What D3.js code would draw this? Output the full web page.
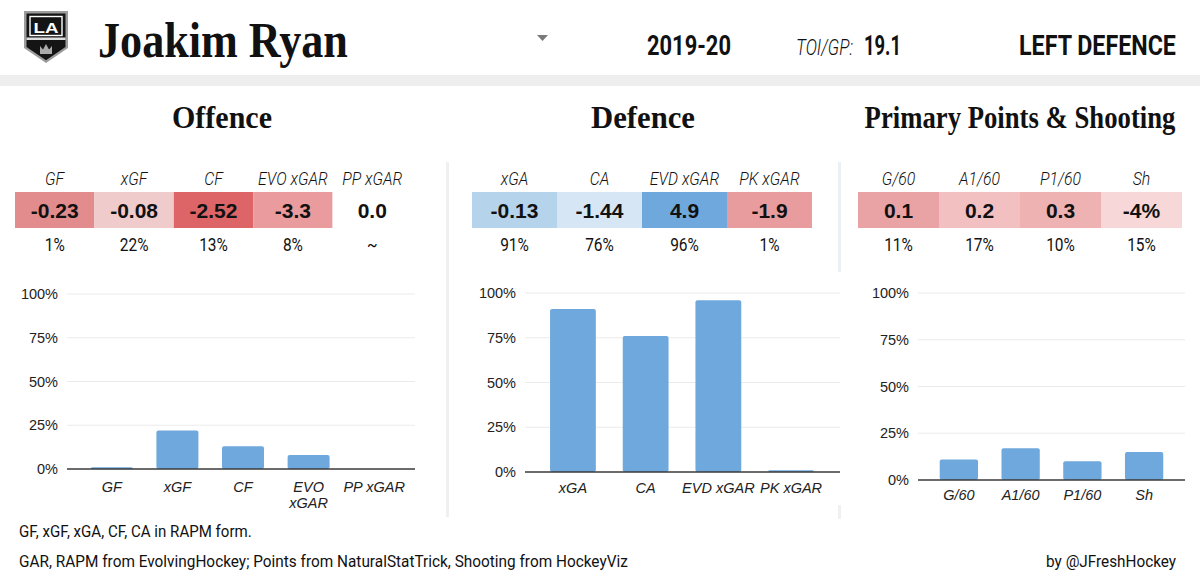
<!DOCTYPE html>
<html><head><meta charset="utf-8">
<script src="https://cdn.jsdelivr.net/npm/d3@7"></script>
<style>
html,body{margin:0;padding:0;background:#fff;}
svg{display:block;}
</style></head><body>
<svg id="c" width="1200" height="581"></svg>
<script>
// ---------- data ----------
const playerName = "Joakim Ryan";
const season = "2019-20";
const toiLabel = "TOI/GP:";
const toiPerGP = "19.1";
const position = "LEFT DEFENCE";

const sectionTitles = ["Offence", "Defence", "Primary Points & Shooting"];

const offenceCategories = ["GF", "xGF", "CF", "EVO xGAR", "PP xGAR"];
const offenceValues = ["-0.23", "-0.08", "-2.52", "-3.3", "0.0"];
const offencePercentiles = [1, 22, 13, 8, null];

const defenceCategories = ["xGA", "CA", "EVD xGAR", "PK xGAR"];
const defenceValues = ["-0.13", "-1.44", "4.9", "-1.9"];
const defencePercentiles = [91, 76, 96, 1];

const shootingCategories = ["G/60", "A1/60", "P1/60", "Sh"];
const shootingValues = ["0.1", "0.2", "0.3", "-4%"];
const shootingPercentiles = [11, 17, 10, 15];

const yTicks = [0, 25, 50, 75, 100];

const footnote1 = "GF, xGF, xGA, CF, CA in RAPM form.";
const footnote2 = "GAR, RAPM from EvolvingHockey; Points from NaturalStatTrick, Shooting from HockeyViz";
const credit = "by @JFreshHockey";

// ---------- styles ----------
const offenceCellColors = ["#e38c8e", "#f0cbcb", "#dd6568", "#e99b9d", "#ffffff"];
const defenceCellColors = ["#b6d3ec", "#d7e6f4", "#6fa8dc", "#e89c9e"];
const shootingCellColors = ["#eaa3a5", "#f2c0c1", "#eeb2b3", "#f7d7d8"];
const BAR = "#6fa8dc";
const SANS = "'Liberation Sans', Arial, sans-serif";
const COND = "Roboto, 'Noto Sans', sans-serif";
const SERIF = "'Liberation Serif', 'DejaVu Serif', serif";

const svg = d3.select("#c");
svg.append("rect").attr("width", 1200).attr("height", 581).attr("fill", "#fff");

// scale a text horizontally so that its width matches a target
function squeeze(sel, x, y, target, anchor) {
  const node = sel.node();
  const w = node.getComputedTextLength();
  const s = target / w;
  sel.attr("x", null).attr("y", null).attr("text-anchor", anchor || "start")
    .attr("transform", `translate(${x},${y}) scale(${s},1)`);
  return sel;
}

// ---------- header ----------
const logo = svg.append("g").attr("transform", "translate(24,11)");
logo.append("path").attr("d", "M0,0 H44 V37 L22,52 L0,37 Z").attr("fill", "#9c9c9c");
logo.append("path").attr("d", "M2.5,2.5 H41.5 V36 L22,49.2 L2.5,36 Z").attr("fill", "#141414");
logo.append("rect").attr("x", 6).attr("y", 5.5).attr("width", 32).attr("height", 19).attr("fill", "none").attr("stroke", "#fff").attr("stroke-width", 1.4);
logo.append("text").attr("x", 22).attr("y", 21.5).attr("text-anchor", "middle").attr("font-family", SANS)
  .attr("font-size", 15).attr("font-weight", 700).attr("fill", "#fff").attr("textLength", 25).attr("lengthAdjust", "spacingAndGlyphs").text("LA");
logo.append("rect").attr("x", 2.5).attr("y", 26.5).attr("width", 39).attr("height", 2.5).attr("fill", "#ddd");
logo.append("path").attr("d", "M16,43 L16,35 L19,38.5 L22,33 L25,38.5 L28,35 L28,43 Z").attr("fill", "#aaa");

squeeze(svg.append("text").attr("font-family", SERIF).attr("font-weight", 700)
  .attr("font-size", 50).attr("fill", "#111").text(playerName), 98, 57, 250);

svg.append("path").attr("d", "M537,35 L548,35 L542.5,41 Z").attr("fill", "#7a7a7a");

function fitText(x, y, str, size, weight, style, w, anchor) {
  const t = svg.append("text").attr("font-family", COND)
    .attr("font-size", size).attr("font-weight", weight).attr("font-style", style)
    .attr("fill", "#111").text(str);
  return squeeze(t, x, y, w, anchor);
}
fitText(647, 55, season, 27, 700, "normal", 84);
fitText(796, 55, toiLabel, 22, 300, "italic", 57);
fitText(864, 55, toiPerGP, 27, 700, "normal", 37);
fitText(1019, 55, position, 27, 700, "normal", 157);

svg.append("rect").attr("x", 0).attr("y", 75).attr("width", 1200).attr("height", 11).attr("fill", "#eeeeee");

// separators
svg.append("rect").attr("x", 446).attr("y", 162).attr("width", 3).attr("height", 355).attr("fill", "#f0f0f0");
svg.append("rect").attr("x", 838).attr("y", 162).attr("width", 3).attr("height", 110).attr("fill", "#edf0f3");
svg.append("rect").attr("x", 838).attr("y", 505).attr("width", 3).attr("height", 14).attr("fill", "#f0f0f0");

// section titles
const titleCenters = [222, 643, 1020];
const titleWidths = [100, 104, 311];
sectionTitles.forEach((t, i) => {
  const el = svg.append("text").attr("font-family", SERIF).attr("font-weight", 700)
    .attr("font-size", 31).attr("fill", "#111").text(t);
  squeeze(el, titleCenters[i], 128, titleWidths[i], "middle");
});

// ---------- tables ----------
function condText(g, x, y, str, size, weight, style, sx) {
  g.append("text").attr("transform", `translate(${x},${y}) scale(${sx},1)`)
    .attr("text-anchor", "middle").attr("font-family", COND).attr("font-size", size)
    .attr("font-weight", weight).attr("font-style", style).attr("fill", "#111").text(str);
}
function drawTable(cats, vals, pcts, colors, range) {
  const g = svg.append("g");
  const x = d3.scaleBand().domain(cats).range(range).padding(0);
  cats.forEach((c, i) => {
    const cx = x(c) + x.bandwidth() / 2;
    g.append("rect").attr("x", x(c)).attr("y", 192).attr("width", x.bandwidth()).attr("height", 36).attr("fill", colors[i]);
    condText(g, cx, 185, c, 18, 300, "italic", 0.88);
    g.append("text").attr("x", cx).attr("y", 218).attr("text-anchor", "middle").attr("font-family", SANS)
      .attr("font-weight", 700).attr("font-size", 21).attr("fill", "#111").text(vals[i]);
    condText(g, cx, 251, pcts[i] == null ? "~" : pcts[i] + "%", 18, 400, "normal", 0.86);
  });
}
drawTable(offenceCategories, offenceValues, offencePercentiles, offenceCellColors, [15, 412]);
drawTable(defenceCategories, defenceValues, defencePercentiles, defenceCellColors, [472, 812]);
drawTable(shootingCategories, shootingValues, shootingPercentiles, shootingCellColors, [858, 1182]);

// ---------- charts ----------
function drawChart(cats, pcts, xr, gx, yr, xPad, pad) {
  const g = svg.append("g");
  const x = d3.scaleBand().domain(cats).range(xr).paddingInner(pad).paddingOuter(pad / 2);
  const y = d3.scaleLinear().domain([0, 100]).range(yr);
  g.selectAll(".grid").data(yTicks.filter(t => t > 0)).join("line")
    .attr("x1", gx[0]).attr("x2", gx[1]).attr("y1", d => y(d)).attr("y2", d => y(d))
    .attr("stroke", "#ebebeb").attr("stroke-width", 1);
  const ya = g.append("g").attr("transform", `translate(${gx[0]},0)`)
    .call(d3.axisLeft(y).tickValues(yTicks).tickSize(0).tickPadding(9).tickFormat(d => d + "%"));
  ya.select(".domain").remove();
  ya.attr("font-family", SANS).attr("font-size", 14.5);
  ya.selectAll("text").attr("fill", "#222");
  const data = cats.map((c, i) => ({ c, v: pcts[i] == null ? 0 : pcts[i] }));
  g.selectAll(".bar").data(data.filter(d => d.v > 0)).join("rect")
    .attr("x", d => x(d.c)).attr("width", x.bandwidth())
    .attr("y", d => y(d.v)).attr("height", d => y(0) - y(d.v))
    .attr("rx", 2).attr("fill", BAR);
  g.append("line").attr("x1", gx[0]).attr("x2", gx[1]).attr("y1", y(0)).attr("y2", y(0))
    .attr("stroke", "#3a3a3a").attr("stroke-width", 1.5);
  const xa = g.append("g").attr("transform", `translate(0,${y(0)})`)
    .call(d3.axisBottom(x).tickSize(0).tickPadding(xPad));
  xa.select(".domain").remove();
  xa.attr("font-family", SANS).attr("font-size", 14.5);
  xa.selectAll("text").attr("fill", "#222").attr("font-style", "italic");
  xa.selectAll(".tick text").each(function () {
    if (this.getComputedTextLength() > x.step()) {
      const t = d3.select(this);
      const words = t.text().split(" ");
      t.text(null).attr("dy", null);
      words.forEach((w, i) => t.append("tspan").attr("x", 0).attr("dy", i === 0 ? "0.71em" : "1.1em").text(w));
    }
  });
}
drawChart(offenceCategories, offencePercentiles, [79, 407], [67, 415], [469, 294], 12.5, 0.36);
drawChart(defenceCategories, defencePercentiles, [536.6, 827.4], [525, 840], [472, 293], 10.5, 0.37);
drawChart(shootingCategories, shootingPercentiles, [928, 1175], [918, 1185], [480, 293], 9.5, 0.38);

// ---------- footer ----------
fitText(19, 537, footnote1, 16, 400, "normal", 233);
fitText(19, 567, footnote2, 16, 400, "normal", 609);
fitText(1176, 567, credit, 16, 400, "normal", 130, "end");
</script>
</body></html>
